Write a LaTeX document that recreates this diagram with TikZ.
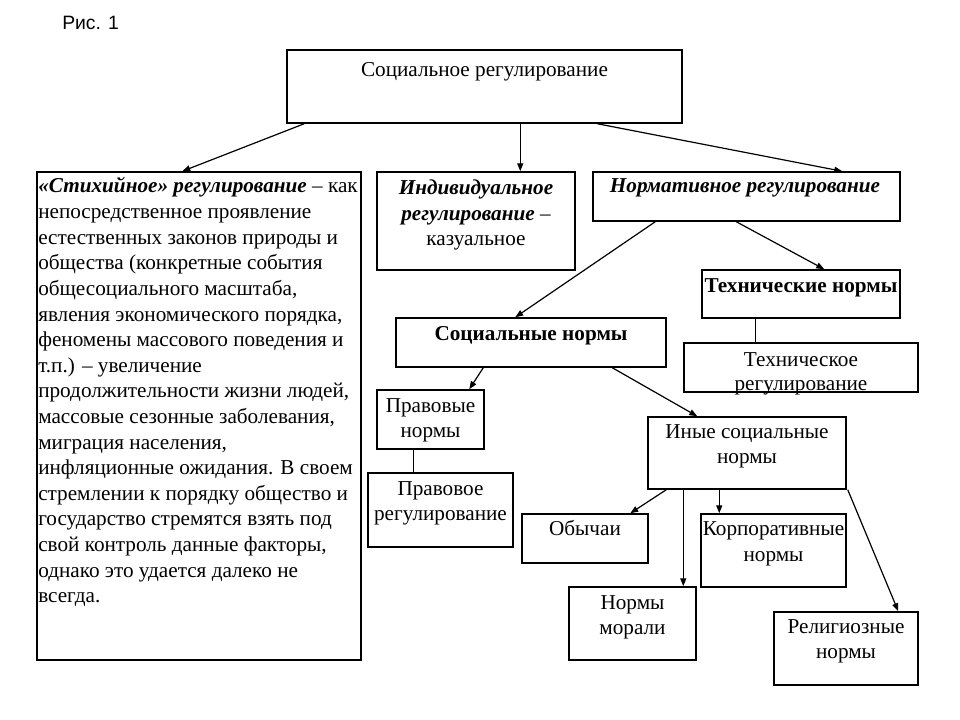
\documentclass[tikz,border=0pt]{standalone}
\usepackage{fontspec}
\setmainfont{Liberation Serif}
\newfontfamily\figsans{Liberation Sans}
\usetikzlibrary{fit,calc,arrows.meta}
\begin{document}
\begin{tikzpicture}[x=0.75pt,y=-0.75pt,
  boxnode/.style={draw=black, line width=1.1pt, inner sep=0pt},
  tx/.style={anchor=base, inner sep=0pt, font=\fontsize{15.9}{18}\selectfont},
  txl/.style={anchor=base west, inner sep=0pt, font=\fontsize{15.9}{18}\selectfont},
  arr/.style={line width=0.9pt, -{Triangle[length=6pt,width=4.5pt]}},
  link/.style={line width=0.9pt}]
\fill[white] (0,0) rectangle (960,720);
\useasboundingbox (0,0) rectangle (960,720);

% caption
\node[anchor=base west, inner sep=0pt, font=\figsans\fontsize{14.5}{16}\selectfont] (cap) at (62,30) {Рис. 1};

% boxes
\node[boxnode, fit={(287,50) (682,123)}] (top) {};
\node[boxnode, fit={(37,172) (361,660)}] (left) {};
\node[boxnode, fit={(377,172) (575,270)}] (indiv) {};
\node[boxnode, fit={(593,172) (900,221)}] (norm) {};
\node[boxnode, fit={(702,270) (900,318)}] (technorm) {};
\node[boxnode, fit={(684,343) (918,392)}] (techreg) {};
\node[boxnode, fit={(396,318) (666,367)}] (social) {};
\node[boxnode, fit={(377,390) (484,449)}] (legalnorm) {};
\node[boxnode, fit={(368,473) (513,547)}] (legalreg) {};
\node[boxnode, fit={(648,417) (846,489)}] (other) {};
\node[boxnode, fit={(522,514) (648,563)}] (customs) {};
\node[boxnode, fit={(701,514) (846,587)}] (corp) {};
\node[boxnode, fit={(569,587) (696,660)}] (moral) {};
\node[boxnode, fit={(774,612) (918,685)}] (relig) {};

% texts
\node[tx] (ttop) at (484.5,77) {Социальное регулирование};

\node[txl] (l1) at (38,193) {\textbf{\textit{«Стихийное» регулирование}} – как};
\node[txl] (l2) at (38,218.6) {непосредственное проявление};
\node[txl] (l3) at (38,244.2) {естественных законов природы и};
\node[txl] (l4) at (38,269.8) {общества (конкретные события};
\node[txl] (l5) at (38,295.4) {общесоциального масштаба,};
\node[txl] (l6) at (38,321) {явления экономического порядка,};
\node[txl] (l7) at (38,346.6) {феномены массового поведения и};
\node[txl] (l8) at (38,372.2) {т.п.) – увеличение};
\node[txl] (l9) at (38,397.8) {продолжительности жизни людей,};
\node[txl] (l10) at (38,423.4) {массовые сезонные заболевания,};
\node[txl] (l11) at (38,449) {миграция населения,};
\node[txl] (l12) at (38,474.6) {инфляционные ожидания. В своем};
\node[txl] (l13) at (38,500.2) {стремлении к порядку общество и};
\node[txl] (l14) at (38,525.8) {государство стремятся взять под};
\node[txl] (l15) at (38,551.4) {свой контроль данные факторы,};
\node[txl] (l16) at (38,577) {однако это удается далеко не};
\node[txl] (l17) at (38,602.6) {всегда.};

\node[tx] (i1) at (476,195) {\textbf{\textit{Индивидуальное}}};
\node[tx] (i2) at (476,220.5) {\textbf{\textit{регулирование}} –};
\node[tx] (i3) at (476,246) {казуальное};

\node[tx] (n1) at (745,193) {\textbf{\textit{Нормативное регулирование}}};
\node[tx] (tn1) at (801,292) {\textbf{Технические нормы}};
\node[tx] (sn1) at (531,340) {\textbf{Социальные нормы}};

\node[tx] (tr1) at (801,366) {Техническое};
\node[tx] (tr2) at (801,390) {регулирование};

\node[tx] (ln1) at (430.5,412) {Правовые};
\node[tx] (ln2) at (430.5,437) {нормы};

\node[tx] (lr1) at (440.5,495) {Правовое};
\node[tx] (lr2) at (440.5,520) {регулирование};

\node[tx] (o1) at (747,438) {Иные социальные};
\node[tx] (o2) at (747,463) {нормы};

\node[tx] (c1) at (585,535) {Обычаи};

\node[tx] (k1) at (773.5,535) {Корпоративные};
\node[tx] (k2) at (773.5,561) {нормы};

\node[tx] (m1) at (632.5,609) {Нормы};
\node[tx] (m2) at (632.5,634) {морали};

\node[tx] (r1) at (846,633) {Религиозные};
\node[tx] (r2) at (846,658) {нормы};

% connectors
\draw[arr] ($(top.south west)+(18,0)$) -- ($(left.north west)+(146,0)$);
\draw[arr] ($(top.south west)+(234,0)$) -- ($(indiv.north west)+(144,0)$);
\draw[arr] ($(top.south west)+(311,0)$) -- ($(norm.north west)+(250,0)$);
\draw[arr] ($(norm.south west)+(63,0)$) -- ($(social.north west)+(120,0)$);
\draw[arr] ($(norm.south west)+(144,0)$) -- ($(technorm.north west)+(123,0)$);
\draw[link] ($(technorm.south west)+(54,0)$) -- ($(techreg.north west)+(72,0)$);
\draw[arr] ($(social.south west)+(88,0)$) -- ($(legalnorm.north west)+(93,0)$);
\draw[arr] ($(social.south west)+(217,0)$) -- ($(other.north west)+(50,0)$);
\draw[link] ($(legalnorm.south west)+(37,0)$) -- ($(legalreg.north west)+(46,0)$);
\draw[arr] ($(other.south west)+(19,0)$) -- ($(customs.north west)+(109,0)$);
\draw[arr] ($(other.south west)+(36,0)$) -- ($(moral.north west)+(115,0)$);
\draw[arr] ($(other.south west)+(72,0)$) -- ($(corp.north west)+(19,0)$);
\draw[arr] ($(other.south east)+(1,0)$) -- ($(relig.north west)+(125,0)$);
\end{tikzpicture}
\end{document}
